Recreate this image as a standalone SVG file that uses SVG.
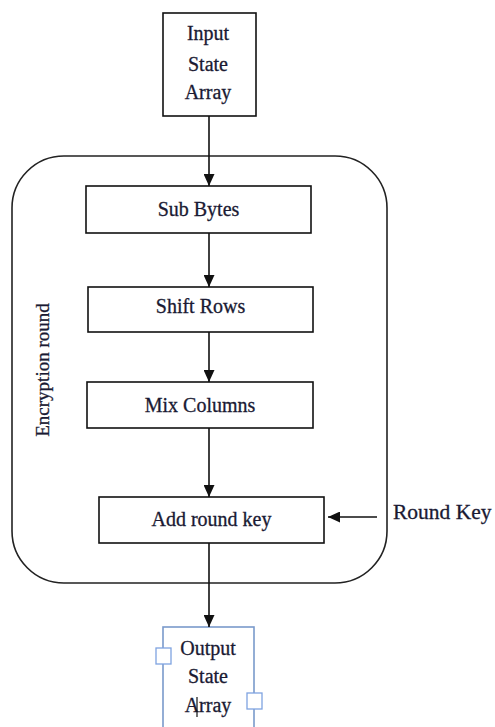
<svg xmlns="http://www.w3.org/2000/svg" width="495" height="727" viewBox="0 0 495 727">
<style>
.box{fill:#fff;stroke:#111;stroke-width:1.6}
.t{font-family:"Liberation Serif",serif;font-size:20px;fill:#1a1a33;stroke:#1a1a33;stroke-width:0.3;text-anchor:middle}
.con{stroke:#111;stroke-width:1.6;fill:none}
.handle{fill:#fff;stroke:#7fa3e0;stroke-width:1.3}
</style>
<defs>
<marker id="ah" markerUnits="userSpaceOnUse" markerWidth="12" markerHeight="11" refX="12" refY="5.5" orient="auto">
<path d="M0,0 L12,5.5 L0,11 z" fill="#111"/>
</marker>
</defs>
<rect id="frame" x="12" y="156" width="375" height="427" rx="52" ry="52" fill="none" stroke="#222" stroke-width="1.6"/>
<text class="t" transform="translate(49,370) rotate(-90)" style="font-size:19px">Encryption round</text>
<g id="input">
<rect class="box" x="163" y="13" width="93" height="103"/>
<text class="t" x="208" y="40">Input</text>
<text class="t" x="208" y="71">State</text>
<text class="t" x="208" y="99">Array</text>
</g>
<g id="subbytes">
<rect class="box" x="86" y="186" width="225" height="47"/>
<text class="t" x="198.5" y="216">Sub Bytes</text>
</g>
<g id="shiftrows">
<rect class="box" x="88" y="287" width="225" height="45"/>
<text class="t" x="200.5" y="313">Shift Rows</text>
</g>
<g id="mixcolumns">
<rect class="box" x="87" y="382" width="226" height="46"/>
<text class="t" x="200" y="412">Mix Columns</text>
</g>
<g id="addroundkey">
<rect class="box" x="99" y="497" width="225" height="46"/>
<text class="t" x="211.5" y="526">Add round key</text>
</g>
<g id="roundkey">
<text class="t" x="393" y="519" style="font-size:21.5px;text-anchor:start">Round Key</text>
</g>
<g id="output">
<rect x="163" y="627" width="91" height="110" fill="#fff" stroke="#7a9acb" stroke-width="1.6"/>
<text class="t" x="208" y="655">Output</text>
<text class="t" x="208" y="683">State</text>
<text class="t" x="208" y="712">Array</text>
<rect class="handle" x="156" y="648" width="15" height="16"/>
<rect class="handle" x="247" y="693" width="15" height="16"/>
<line x1="197" y1="697" x2="197" y2="717" stroke="#111" stroke-width="1.2"/>
</g>
<g id="connectors">
<line class="con" x1="209" y1="116" x2="209" y2="186" marker-end="url(#ah)"/>
<line class="con" x1="209" y1="233" x2="209" y2="287" marker-end="url(#ah)"/>
<line class="con" x1="209" y1="332" x2="209" y2="382" marker-end="url(#ah)"/>
<line class="con" x1="209" y1="428" x2="209" y2="497" marker-end="url(#ah)"/>
<line class="con" x1="209" y1="543" x2="209" y2="627" marker-end="url(#ah)"/>
<line class="con" x1="377" y1="517" x2="328" y2="517" marker-end="url(#ah)"/>
</g>
</svg>
